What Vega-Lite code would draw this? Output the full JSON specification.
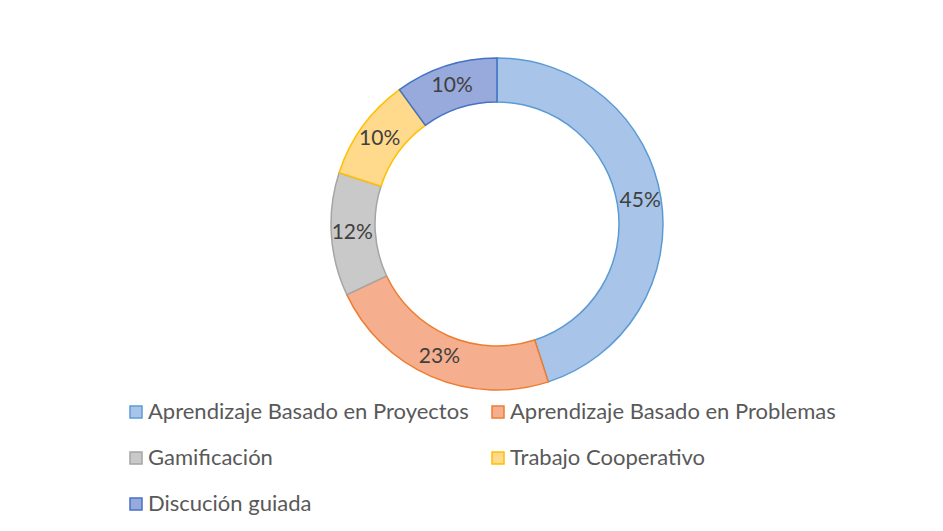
{
  "$schema": "https://vega.github.io/schema/vega-lite/v6.json",
  "width": 892,
  "height": 448,
  "autosize": "none",
  "padding": {"left": 51, "top": 0, "right": 0, "bottom": 83},
  "background": "white",
  "config": {"view": {"stroke": null}},
  "data": {"values": [
    {"orden": 1, "categoria": "Aprendizaje Basado en Proyectos", "valor": 45, "etiqueta": "45%"},
    {"orden": 2, "categoria": "Aprendizaje Basado en Problemas", "valor": 23, "etiqueta": "23%"},
    {"orden": 3, "categoria": "Gamificación", "valor": 12, "etiqueta": "12%"},
    {"orden": 4, "categoria": "Trabajo Cooperativo", "valor": 10, "etiqueta": "10%"},
    {"orden": 5, "categoria": "Discución guiada", "valor": 10, "etiqueta": "10%"}
  ]},
  "encoding": {
    "theta": {"field": "valor", "type": "quantitative", "stack": true},
    "order": {"field": "orden", "type": "quantitative"}
  },
  "layer": [
    {
      "mark": {"type": "arc", "outerRadius": 166, "innerRadius": 122, "strokeWidth": 1.5},
      "encoding": {
        "fill": {
          "field": "categoria", "type": "nominal",
          "scale": {
            "domain": ["Aprendizaje Basado en Proyectos", "Aprendizaje Basado en Problemas", "Gamificación", "Trabajo Cooperativo", "Discución guiada"],
            "range": ["#a8c5e9", "#f5af8e", "#c9c9c9", "#ffd98c", "#98a9dc"]
          },
          "legend": {
            "title": null, "orient": "none", "legendX": 74, "legendY": 401, "direction": "horizontal",
            "columns": 2, "columnPadding": 18, "rowPadding": 24,
            "symbolType": "square", "symbolSize": 144, "symbolStrokeWidth": 1.5,
            "labelFont": "Lato", "labelFontSize": 22, "labelColor": "#595959",
            "labelOffset": 1, "labelLimit": 500
          }
        },
        "stroke": {
          "field": "categoria", "type": "nominal",
          "scale": {
            "domain": ["Aprendizaje Basado en Proyectos", "Aprendizaje Basado en Problemas", "Gamificación", "Trabajo Cooperativo", "Discución guiada"],
            "range": ["#5b9bd5", "#ed7d31", "#a5a5a5", "#ffc000", "#4472c4"]
          },
          "legend": {
            "title": null, "orient": "none", "legendX": 74, "legendY": 401, "direction": "horizontal",
            "columns": 2, "columnPadding": 18, "rowPadding": 24,
            "symbolType": "square", "symbolSize": 144, "symbolStrokeWidth": 1.5,
            "labelFont": "Lato", "labelFontSize": 22, "labelColor": "#595959",
            "labelOffset": 1, "labelLimit": 500
          }
        }
      }
    },
    {
      "mark": {"type": "text", "radius": 145, "font": "Lato", "fontSize": 21, "color": "#404040"},
      "encoding": {
        "text": {"field": "etiqueta", "type": "nominal"}
      }
    }
  ]
}
